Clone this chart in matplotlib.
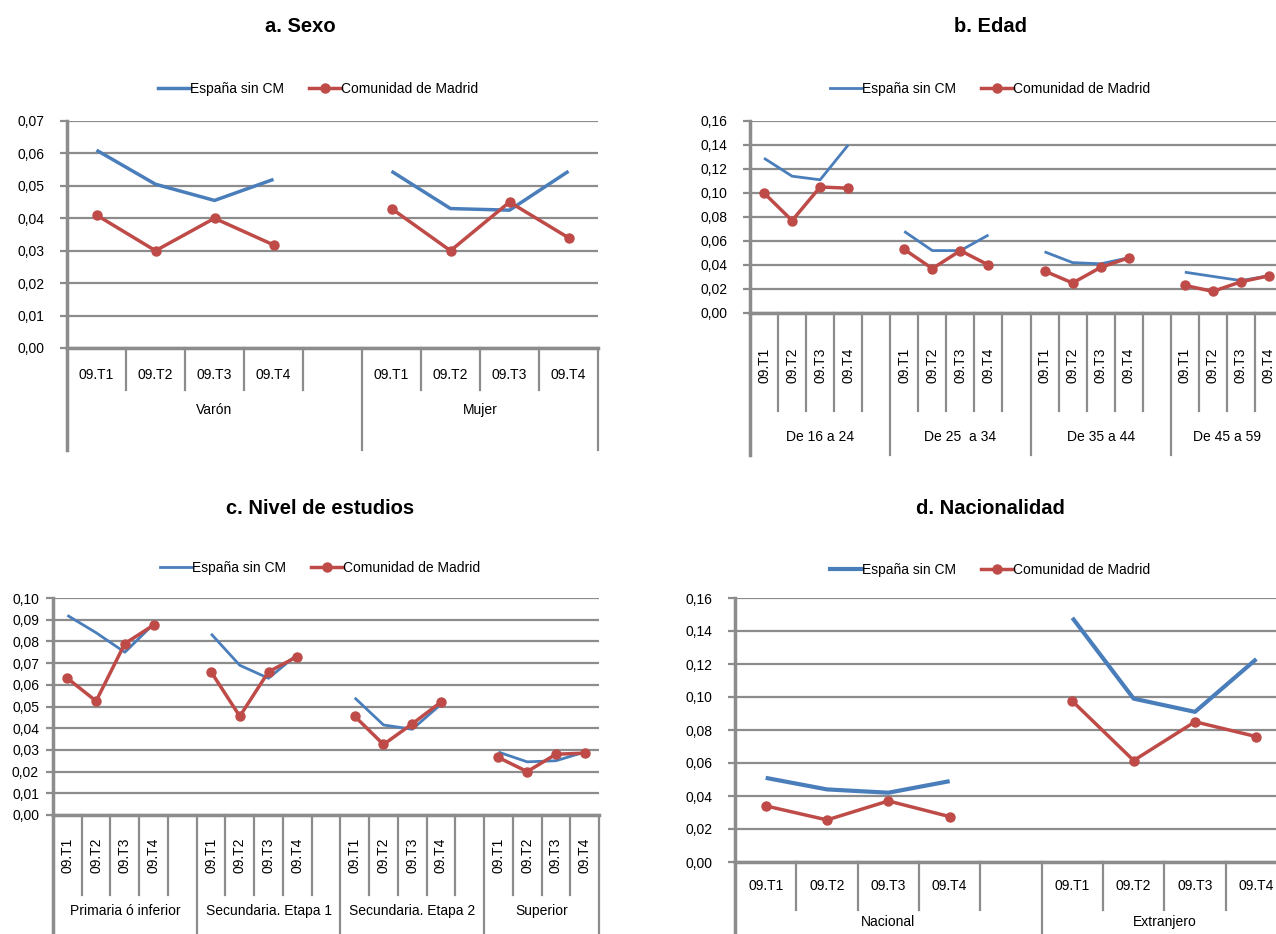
import numpy as np
import matplotlib
matplotlib.use('Agg')
import matplotlib.pyplot as plt
from matplotlib.lines import Line2D
from matplotlib.ticker import FuncFormatter

plt.rcParams['font.family'] = ['Liberation Sans Narrow', 'Liberation Sans', 'DejaVu Sans']

W, H = 1276, 934

quarters = ['09.T1', '09.T2', '09.T3', '09.T4']

# a. Sexo
a_groups = ['Varón', 'Mujer']
a_spain = [[0.061, 0.0505, 0.0455, 0.052], [0.0545, 0.043, 0.0425, 0.0545]]
a_madrid = [[0.041, 0.030, 0.040, 0.0318], [0.043, 0.030, 0.045, 0.034]]

# b. Edad
b_groups = ['De 16 a 24', 'De 25  a 34', 'De 35 a 44', 'De 45 a 59']
b_spain = [[0.129, 0.114, 0.111, 0.140], [0.068, 0.052, 0.052, 0.065],
           [0.051, 0.042, 0.041, 0.046], [0.034, 0.0305, 0.027, 0.031]]
b_madrid = [[0.100, 0.077, 0.105, 0.104], [0.053, 0.037, 0.052, 0.040],
            [0.035, 0.025, 0.038, 0.046], [0.023, 0.018, 0.026, 0.031]]

# c. Nivel de estudios
c_groups = ['Primaria ó inferior', 'Secundaria. Etapa 1', 'Secundaria. Etapa 2', 'Superior']
c_spain = [[0.092, 0.084, 0.075, 0.088], [0.0835, 0.069, 0.063, 0.074],
           [0.054, 0.0415, 0.0395, 0.051], [0.029, 0.0245, 0.025, 0.029]]
c_madrid = [[0.063, 0.0525, 0.079, 0.0875], [0.066, 0.0455, 0.066, 0.073],
            [0.0455, 0.0325, 0.042, 0.052], [0.0265, 0.020, 0.028, 0.0285]]

# d. Nacionalidad
d_groups = ['Nacional', 'Extranjero']
d_spain = [[0.051, 0.044, 0.042, 0.049], [0.148, 0.099, 0.091, 0.123]]
d_madrid = [[0.034, 0.0255, 0.037, 0.0275], [0.0975, 0.0615, 0.085, 0.076]]

BLUE = '#4a7ebb'
RED = '#be4b48'
GRID = '#8c8c8c'
AXC = '#8c8c8c'
FS = 10


def panel(fig, box, title, title_x, title_y, leg_x, leg_y, groups, spain, madrid,
          ymax, ystep, rotated, cat, ypad=11, lw_blue=2.5):
    l, r, t, b = box
    lab1, row1, lab2, row2 = cat
    ax = fig.add_axes([l / W, 1 - b / H, (r - l) / W, (b - t) / H])
    # slots: every group has 4 quarters + one blank, except the last
    nslots = 5 * len(groups) - 1
    ax.set_xlim(0, nslots)
    ax.set_ylim(0, ymax)
    ax.set_yticks(np.arange(0, ymax + ystep / 2, ystep))
    ax.yaxis.set_major_formatter(FuncFormatter(lambda v, p: f'{v:.2f}'.replace('.', ',')))
    ax.grid(axis='y', color=GRID, lw=1.6)
    ax.set_axisbelow(True)
    for s in ['top', 'right']:
        ax.spines[s].set_visible(False)
    ax.spines['left'].set_color(AXC)
    ax.spines['left'].set_linewidth(2.5)
    ax.spines['bottom'].set_color(AXC)
    ax.spines['bottom'].set_linewidth(2.5)
    ax.tick_params(axis='y', length=5, width=1.6, color=GRID, labelsize=FS, pad=ypad)
    ax.set_xticks([])

    ph = b - t
    trans = ax.get_xaxis_transform()
    for g, name in enumerate(groups):
        x0 = 5 * g
        xs = [x0 + i + 0.5 for i in range(4)]
        ax.plot(xs, spain[g], color=BLUE, lw=lw_blue, solid_capstyle='butt', zorder=3)
        ax.plot(xs, madrid[g], color=RED, lw=2.5, marker='o', ms=6.5, zorder=4)
        n = 5 if g < len(groups) - 1 else 4
        for i in range(1, n):
            ax.plot([x0 + i, x0 + i], [0, -row1 / ph], color=AXC, lw=1.6,
                    transform=trans, clip_on=False)
        ax.plot([x0 + n, x0 + n], [0, -row2 / ph], color=AXC, lw=1.6,
                transform=trans, clip_on=False)
        for i, q in enumerate(quarters):
            ax.text(x0 + i + 0.5, -lab1 / ph, q, rotation=90 if rotated else 0,
                    ha='center', va='center', fontsize=FS, transform=trans)
        ax.text(x0 + n / 2, -lab2 / ph, name, ha='center', va='center',
                fontsize=FS, transform=trans)
    ax.plot([0, 0], [0, -row2 / ph], color=AXC, lw=2.5, transform=trans, clip_on=False)

    fig.text(title_x / W, 1 - title_y / H, title, ha='center', va='center',
             fontsize=14.5, fontweight='bold')
    handles = [Line2D([], [], color=BLUE, lw=lw_blue),
               Line2D([], [], color=RED, lw=2.5, marker='o', ms=6.5)]
    fig.legend(handles, ['España sin CM', 'Comunidad de Madrid'], loc='center',
               bbox_to_anchor=(leg_x / W, 1 - leg_y / H), ncol=2, frameon=False,
               fontsize=FS, handlelength=2.3, handletextpad=0.0, columnspacing=1.8)
    return ax


fig = plt.figure(figsize=(W / 100, H / 100), dpi=100)

panel(fig, (67, 598, 121, 348), 'a. Sexo', 300, 27, 318, 89, a_groups, a_spain, a_madrid,
      0.07, 0.01, False, (27, 42, 62, 102))
panel(fig, (750, 1283, 121, 313), 'b. Edad', 990, 27, 990, 89, b_groups, b_spain, b_madrid,
      0.16, 0.02, True, (52, 98, 124, 142), lw_blue=2.0)
panel(fig, (53, 599, 598, 815), 'c. Nivel de estudios', 320, 508, 320, 568, c_groups, c_spain,
      c_madrid, 0.10, 0.01, True, (40, 80, 96, 120), ypad=5, lw_blue=2.0)
panel(fig, (735, 1287, 598, 862), 'd. Nacionalidad', 990, 508, 990, 570, d_groups, d_spain,
      d_madrid, 0.16, 0.02, False, (24, 48, 60, 80), lw_blue=3.0)

fig.savefig('out.png', dpi=100)
